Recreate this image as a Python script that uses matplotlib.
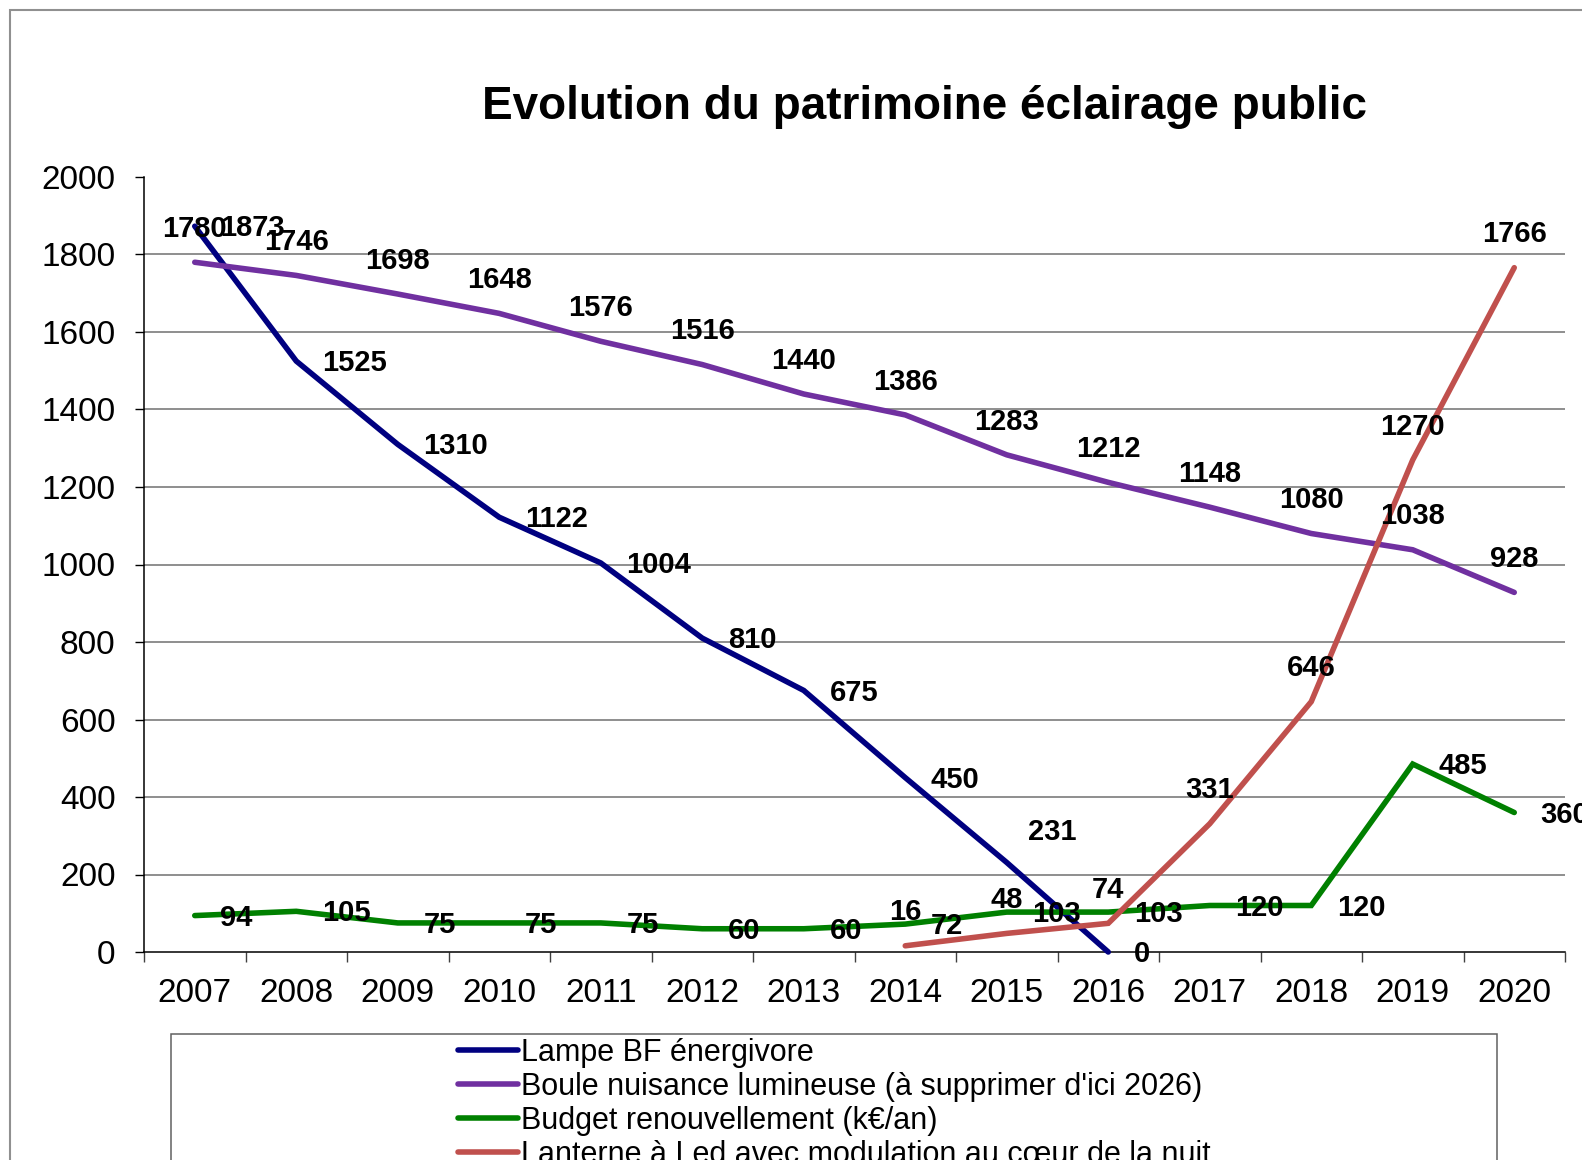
import matplotlib
matplotlib.use('Agg')
import matplotlib.pyplot as plt
from matplotlib.lines import Line2D
from matplotlib.patches import Rectangle

plt.rcParams['font.family'] = ['Liberation Sans', 'DejaVu Sans']

years = [2007, 2008, 2009, 2010, 2011, 2012, 2013, 2014, 2015, 2016, 2017, 2018, 2019, 2020]

lampe_bf = [1873, 1525, 1310, 1122, 1004, 810, 675, 450, 231, 0]
boule = [1780, 1746, 1698, 1648, 1576, 1516, 1440, 1386, 1283, 1212, 1148, 1080, 1038, 928]
budget = [94, 105, 75, 75, 75, 60, 60, 72, 103, 103, 120, 120, 485, 360]
lanterne = [16, 48, 74, 331, 646, 1270, 1766]

series_names = [
    'Lampe BF énergivore',
    "Boule nuisance lumineuse (à supprimer d'ici 2026)",
    'Budget renouvellement (k€/an)',
    'Lanterne à Led avec modulation au cœur de la nuit',
]

COLORS = ['#000080', '#7030A0', '#008000', '#C0504D']

fig = plt.figure(figsize=(15.82, 11.60), dpi=100)
ax = fig.add_axes([144 / 1582, 1 - 952 / 1160, (1565 - 144) / 1582, (952 - 177) / 1160])

x_all = list(range(len(years)))
series = [
    (x_all[:len(lampe_bf)], lampe_bf, 'right'),
    (x_all, boule, 'above'),
    (x_all, budget, 'right'),
    (x_all[len(years) - len(lanterne):], lanterne, 'above'),
]

# one label Excel moved by hand
label_override = {(0, 8): (15, 22)}

for s, (xs, ys, pos) in enumerate(series):
    ax.plot(xs, ys, color=COLORS[s], linewidth=4, solid_capstyle='round',
            solid_joinstyle='miter', zorder=3, clip_on=False)
    for i, (x, y) in enumerate(zip(xs, ys)):
        if (s, i) in label_override:
            off, ha = label_override[(s, i)], 'left'
        elif pos == 'right':
            off, ha = (18.5, -1.5), 'left'
        else:
            off, ha = (0, 24), 'center'
        ax.annotate(str(y), (x, y), xytext=off, textcoords='offset points',
                    ha=ha, va='center', fontsize=21, fontweight='bold',
                    color='black', zorder=5, annotation_clip=False)

ax.set_xlim(-0.5, len(years) - 0.5)
ax.set_ylim(0, 2000)
ax.set_yticks(range(0, 2001, 200))
ax.set_xticks(x_all)
ax.set_xticklabels([str(y) for y in years])
ax.set_xticks([i - 0.5 for i in range(len(years) + 1)], minor=True)

ax.tick_params(axis='y', direction='out', length=6.5, width=1, pad=14, labelsize=24)
ax.tick_params(axis='x', which='major', length=0, pad=19, labelsize=24)
ax.tick_params(axis='x', which='minor', direction='out', length=7, width=1, color='#404040')

for y in range(200, 2000, 200):
    ax.axhline(y, color='#707070', linewidth=1.1, zorder=1)

ax.spines['top'].set_visible(False)
ax.spines['right'].set_visible(False)
ax.spines['left'].set_linewidth(1.1)
ax.spines['bottom'].set_linewidth(1.1)

fig.text(924 / 1582, 1 - 107 / 1160, 'Evolution du patrimoine éclairage public',
         ha='center', va='center', fontsize=33, fontweight='bold')

# chart area border and legend box (both run off the page)
fig.patches.append(Rectangle((10 / 1582, -0.1), 1.2, 1 - 10 / 1160 + 0.1,
                             transform=fig.transFigure, fill=False,
                             edgecolor='#909090', linewidth=1.5))
fig.patches.append(Rectangle((171 / 1582, -0.1), (1497 - 171) / 1582, 1 - 1034 / 1160 + 0.1,
                             transform=fig.transFigure, fill=False,
                             edgecolor='#606060', linewidth=1.1))

handles = [Line2D([], [], color=c, linewidth=4, solid_capstyle='round') for c in COLORS]
fig.legend(handles, series_names, loc='upper left',
           bbox_to_anchor=(458 / 1582, 1 - 1038 / 1160), frameon=False,
           fontsize=22, handlelength=1.95, handletextpad=0.1,
           labelspacing=0.13, borderpad=0, borderaxespad=0)

fig.savefig('out.png', dpi=100)
